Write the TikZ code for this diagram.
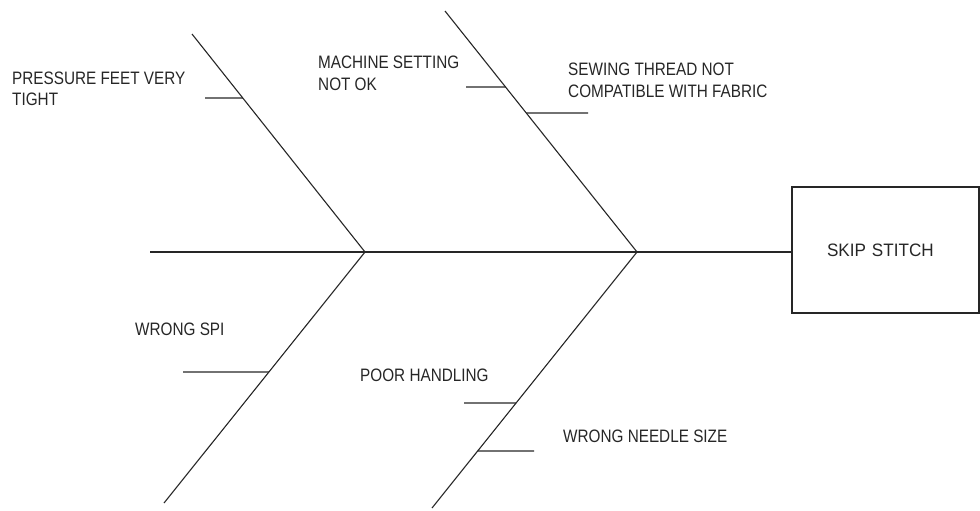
\documentclass[tikz,border=0pt]{standalone}
\usepackage{fontspec}
\setmainfont[FakeStretch=0.85]{Liberation Sans}
\newfontfamily\effectfont[FakeStretch=0.95]{Liberation Sans}
\usetikzlibrary{calc}
\begin{document}
\begin{tikzpicture}[x=1pt,y=-1pt,
  bone/.style={draw=black!85,line width=1.1pt},
  lbl/.style={anchor=base west,inner sep=0pt,align=left,text=black!85,
    font=\fontsize{18pt}{21pt}\selectfont},
  effectbox/.style={draw=black!85,line width=1.1pt,minimum height=126pt,
    text width=117pt,inner xsep=35pt,inner ysep=0pt,align=left,text=black!85,
    font=\effectfont\fontsize{18pt}{21pt}\selectfont}]
\useasboundingbox (0,0) rectangle (980,511);
% effect
\node[effectbox] (effect) at (885.5,250) {SKIP STITCH};
% spine
\coordinate (tail) at (150,252);
\coordinate (j1) at (365,252);
\coordinate (j2) at (637,252);
\draw[bone] (tail) -- (j1) -- (j2) -- (j2 -| effect.west);
% main bones
\coordinate (ul) at (192,34);
\coordinate (ur) at (445,11);
\coordinate (ll) at (164,503);
\coordinate (lr) at (432,508);
\draw[bone] (ul) -- (j1);
\draw[bone] (ur) -- (j2);
\draw[bone] (j1) -- (ll);
\draw[bone] (j2) -- (lr);
% attach points
\coordinate (a1) at ($(ul)!0.2936!(j1)$);
\coordinate (a2) at ($(ur)!0.3154!(j2)$);
\coordinate (a3) at ($(ur)!0.4232!(j2)$);
\coordinate (a4) at ($(j1)!0.478!(ll)$);
\coordinate (a5) at ($(j2)!0.5898!(lr)$);
\coordinate (a6) at ($(j2)!0.7773!(lr)$);
% sub-bone free ends
\coordinate (e1) at (205,98);
\coordinate (e2) at (466,87);
\coordinate (e3) at (588,113);
\coordinate (e4) at (183,372);
\coordinate (e5) at (464,403);
\coordinate (e6) at (534,451);
\draw[bone] (e1) -- (a1);
\draw[bone] (e2) -- (a2);
\draw[bone] (a3) -- (e3);
\draw[bone] (e4) -- (a4);
\draw[bone] (e5) -- (a5);
\draw[bone] (a6) -- (e6);
% labels (base = baseline of last line)
\node[lbl] (t1) at (12,106) {PRESSURE FEET VERY\\TIGHT};
\node[lbl] (t2) at (318,90) {MACHINE SETTING\\NOT OK};
\node[lbl] (t3) at (568,97) {SEWING THREAD NOT\\COMPATIBLE WITH FABRIC};
\node[lbl] (t4) at (135,335) {WRONG SPI};
\node[lbl] (t5) at (360,381) {POOR HANDLING};
\node[lbl] (t6) at (563,442) {WRONG NEEDLE SIZE};
\end{tikzpicture}
\end{document}
